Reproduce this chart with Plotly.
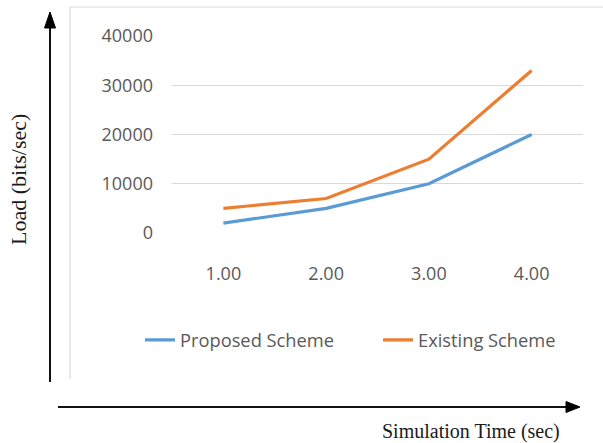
import plotly.graph_objects as go

# Data
times = ["1.00", "2.00", "3.00", "4.00"]
proposed = [2000, 5000, 10000, 20000]
existing = [5000, 7000, 15000, 33000]
y_ticks = [0, 10000, 20000, 30000, 40000]

W, H = 603, 443
L, R, T, B = 172, 20, 36, 210
PW, PH = W - L - R, H - T - B


def px(x):
    return (x - L) / PW


def py(y):
    return (H - B - y) / PH


GRID = "#d9d9d9"
TXT = "#595959"
SANS = "Open Sans"
SERIF = "Liberation Serif"

fig = go.Figure()
fig.add_trace(go.Scatter(x=times, y=proposed, mode="lines", name="Proposed Scheme",
                         line=dict(color="#5B9BD5", width=3.2), legend="legend"))
fig.add_trace(go.Scatter(x=times, y=existing, mode="lines", name="Existing Scheme",
                         line=dict(color="#ED7D31", width=3.2), legend="legend2"))

shapes = []
# chart-area border (left and top edges)
shapes.append(dict(type="line", xref="paper", yref="paper", x0=px(70), x1=px(70), y0=py(7), y1=py(379),
                   line=dict(color=GRID, width=1.2)))
shapes.append(dict(type="line", xref="paper", yref="paper", x0=px(70), x1=px(603), y0=py(7), y1=py(7),
                   line=dict(color=GRID, width=1.2)))
# vertical arrow
shapes.append(dict(type="line", xref="paper", yref="paper", x0=px(50), x1=px(50), y0=py(382), y1=py(26),
                   line=dict(color="#111", width=2)))
shapes.append(dict(type="path", xref="paper", yref="paper",
                   path=f"M {px(44.5)} {py(28)} L {px(55.5)} {py(28)} L {px(50)} {py(12)} Z",
                   fillcolor="#000", line=dict(color="#000", width=1)))
# horizontal arrow
shapes.append(dict(type="line", xref="paper", yref="paper", x0=px(58), x1=px(568), y0=py(407), y1=py(407),
                   line=dict(color="#111", width=2)))
shapes.append(dict(type="path", xref="paper", yref="paper",
                   path=f"M {px(566)} {py(401.5)} L {px(566)} {py(412.5)} L {px(580)} {py(407)} Z",
                   fillcolor="#000", line=dict(color="#000", width=1)))

annotations = [
    dict(text="Load (bits/sec)", xref="paper", yref="paper", x=px(18), y=py(180), textangle=-90,
         showarrow=False, xanchor="center", yanchor="middle",
         font=dict(family=SERIF, size=22, color="#1a1a1a")),
    dict(text="Simulation Time (sec)", xref="paper", yref="paper", x=px(471), y=py(431),
         showarrow=False, xanchor="center", yanchor="middle",
         font=dict(family=SERIF, size=20, color="#1a1a1a")),
]

legend_style = dict(orientation="h", xanchor="left", yanchor="middle",
                    font=dict(family=SANS, size=18.3, color=TXT), itemwidth=30,
                    bgcolor="rgba(0,0,0,0)")

fig.update_layout(
    width=W, height=H,
    margin=dict(l=L, r=R, t=T, b=B, pad=0),
    paper_bgcolor="white", plot_bgcolor="white",
    showlegend=True,
    legend=dict(x=px(140), y=py(340), **legend_style),
    legend2=dict(x=px(378), y=py(340), **legend_style),
    shapes=shapes,
    annotations=annotations,
    font=dict(family=SANS, size=18, color=TXT),
)
fig.update_xaxes(type="category", range=[-0.5, 3.5], showgrid=False, zeroline=False,
                 showline=False, ticks="", ticklabelstandoff=28,
                 tickfont=dict(family=SANS, size=18, color=TXT))
fig.update_yaxes(range=[0, 40000], tickvals=y_ticks, ticktext=[str(v) for v in y_ticks],
                 showgrid=True, gridcolor=GRID, gridwidth=1.2, zeroline=False,
                 showline=False, ticks="", ticklabelstandoff=18,
                 tickfont=dict(family=SANS, size=18, color=TXT))

fig.write_html("out.html")
